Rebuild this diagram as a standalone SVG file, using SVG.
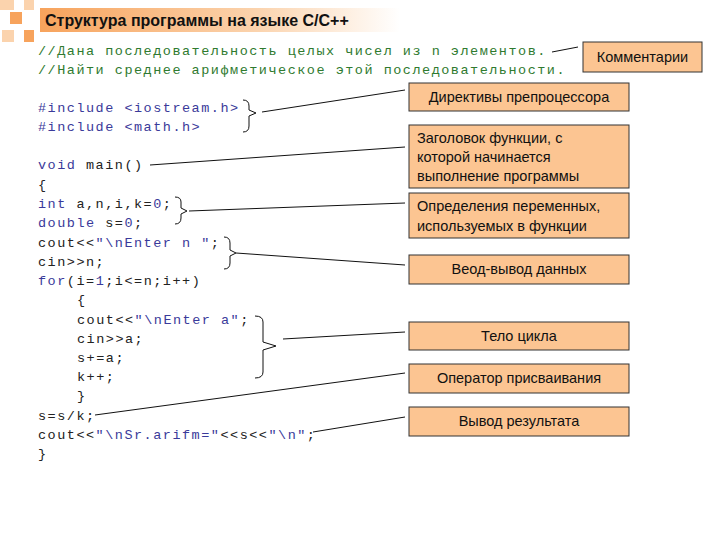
<svg xmlns="http://www.w3.org/2000/svg" width="720" height="540" viewBox="0 0 720 540">
<defs>
<linearGradient id="hg" x1="0" x2="1" y1="0" y2="0"><stop offset="0" stop-color="#f7a35c"/><stop offset="0.6" stop-color="#fbd3ad"/><stop offset="1" stop-color="#ffffff"/></linearGradient>
<style>
.code{font-family:"Liberation Mono",monospace;font-size:13.5px;letter-spacing:1.5px;fill:#222}
.cm{fill:#2f7a2f}.kw{fill:#3a3a9a}.st{fill:#3a3a9a}
.box{fill:#fcc592;stroke:#333;stroke-width:1}
.bt{font-family:"Liberation Sans",Arial,sans-serif;font-size:14.5px;fill:#111}
.ln{stroke:#111;stroke-width:1;fill:none}
</style>
</defs>
<rect width="720" height="540" fill="#fff"/>
<g id="header">
<rect x="0" y="0" width="14" height="10" fill="#fbd3ad"/>
<rect x="24" y="0" width="10" height="10" fill="#fbd3ad"/>
<rect x="10" y="12" width="12" height="12" fill="#f7a35c"/>
<rect x="2" y="30" width="12" height="12" fill="#fbd3ad"/>
<rect x="24" y="30" width="10" height="12" fill="#f7a35c"/>
<rect x="40" y="8" width="360" height="24" fill="url(#hg)"/>
<text x="45" y="26" font-family="Liberation Sans,Arial,sans-serif" font-size="16" font-weight="bold" fill="#111">Структура программы на языке C/C++</text>
</g>
<g id="code" class="code">
<text x="38" y="55" class="code cm" xml:space="preserve">//Дана последовательность целых чисел из n элементов.</text>
<text x="38" y="74" class="code cm" xml:space="preserve">//Найти среднее арифметическое этой последовательности.</text>
<text x="38" y="112" class="code kw" xml:space="preserve">#include &lt;iostream.h&gt;</text>
<text x="38" y="131" class="code kw" xml:space="preserve">#include &lt;math.h&gt;</text>
<text x="38" y="169" class="code" xml:space="preserve"><tspan class="kw">void</tspan> main()</text>
<text x="38" y="189" class="code">{</text>
<text x="38" y="208" class="code" xml:space="preserve"><tspan class="kw">int</tspan> a,n,i,k=<tspan class="st">0</tspan>;</text>
<text x="38" y="227" class="code" xml:space="preserve"><tspan class="kw">double</tspan> s=<tspan class="st">0</tspan>;</text>
<text x="38" y="247" class="code" xml:space="preserve">cout&lt;&lt;<tspan class="st">"\nEnter n "</tspan>;</text>
<text x="38" y="266" class="code">cin&gt;&gt;n;</text>
<text x="38" y="285" class="code" xml:space="preserve"><tspan class="kw">for</tspan>(i=<tspan class="st">1</tspan>;i&lt;=n;i++)</text>
<text x="77" y="304" class="code">{</text>
<text x="77" y="324" class="code" xml:space="preserve">cout&lt;&lt;<tspan class="st">"\nEnter a"</tspan>;</text>
<text x="77" y="343" class="code">cin&gt;&gt;a;</text>
<text x="77" y="362" class="code">s+=a;</text>
<text x="77" y="381" class="code">k++;</text>
<text x="77" y="400" class="code">}</text>
<text x="38" y="420" class="code">s=s/k;</text>
<text x="38" y="439" class="code" xml:space="preserve">cout&lt;&lt;<tspan class="st">"\nSr.arifm="</tspan>&lt;&lt;s&lt;&lt;<tspan class="st">"\n"</tspan>;</text>
<text x="38" y="458" class="code">}</text>
</g>
<g id="connectors" class="ln">
<path d="M552,52 L578,47"/>
<path d="M243,100 Q249,100 249,106 L249,110 L256,113 L249,116 L249,126 Q249,132 243,132"/>
<path d="M262,112 L405,90"/>
<path d="M150,165 L405,147"/>
<path d="M175,197 Q181,197 181,202 L181,208 L187,211 L181,214 L181,218 Q181,224 175,224"/>
<path d="M189,211 L405,203"/>
<path d="M224,237 Q230,237 230,243 L230,250 L236,253 L230,256 L230,263 Q230,269 224,269"/>
<path d="M236,253 L405,265"/>
<path d="M255,316 Q263,316 263,322 L263,342 L276,346 L263,350 L263,372 Q263,378 255,378"/>
<path d="M283,339 L405,332"/>
<path d="M95,415 L405,373"/>
<path d="M313,432 L405,417"/>
</g>
<g id="n1"><rect class="box" x="583" y="42" width="119" height="30"/><text class="bt" x="642.5" y="62" text-anchor="middle">Комментарии</text></g>
<g id="n2"><rect class="box" x="409" y="83" width="220" height="28"/><text class="bt" x="519" y="102" text-anchor="middle">Директивы препроцессора</text></g>
<g id="n3"><rect class="box" x="409" y="125" width="220" height="63"/><text class="bt" x="417" y="143">Заголовок функции, с</text><text class="bt" x="417" y="162">которой начинается</text><text class="bt" x="417" y="181">выполнение программы</text></g>
<g id="n4"><rect class="box" x="409" y="193" width="220" height="45"/><text class="bt" x="417" y="211">Определения переменных,</text><text class="bt" x="417" y="231">используемых в функции</text></g>
<g id="n5"><rect class="box" x="409" y="255" width="220" height="29"/><text class="bt" x="519" y="274" text-anchor="middle">Веод-вывод данных</text></g>
<g id="n6"><rect class="box" x="409" y="322" width="220" height="28"/><text class="bt" x="519" y="341" text-anchor="middle">Тело цикла</text></g>
<g id="n7"><rect class="box" x="409" y="364" width="220" height="29"/><text class="bt" x="519" y="383" text-anchor="middle">Оператор присваивания</text></g>
<g id="n8"><rect class="box" x="409" y="407" width="220" height="29"/><text class="bt" x="519" y="426" text-anchor="middle">Вывод результата</text></g>
</svg>
